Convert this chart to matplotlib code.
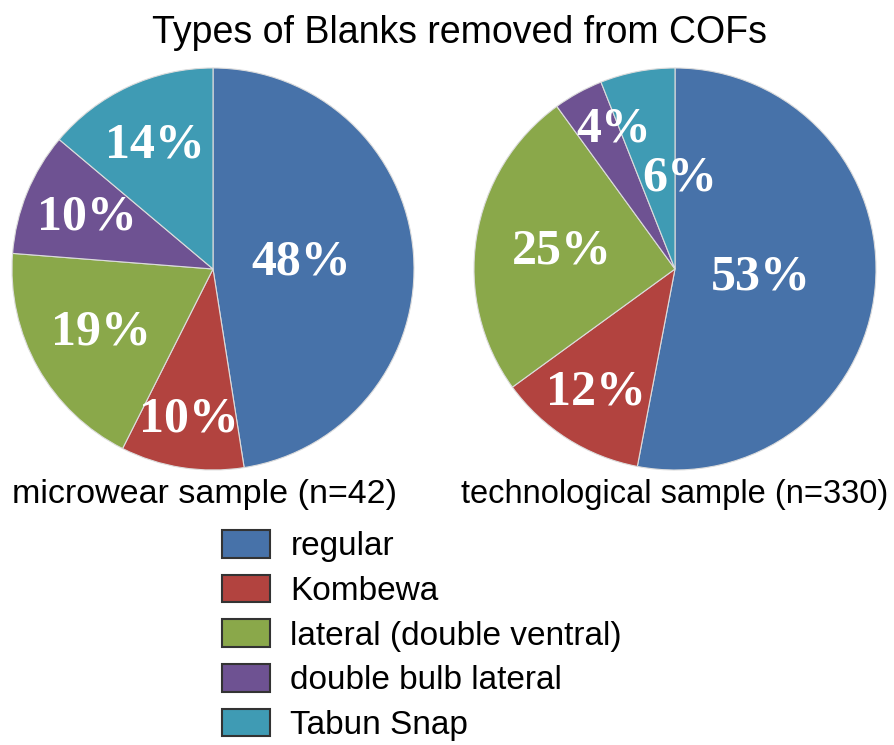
import numpy as np
import matplotlib
matplotlib.use("Agg")
import matplotlib.pyplot as plt

# data
categories = ["regular", "Kombewa", "lateral (double ventral)",
              "double bulb lateral", "Tabun Snap"]
micro_vals = [48, 10, 19, 10, 14]
tech_vals = [53, 12, 25, 4, 6]
micro_title = "microwear sample (n=42)"
tech_title = "technological sample (n=330)"
colors = ["#4772A9", "#B2433F", "#8AA84A", "#6E5292", "#3F9BB4"]

W, H = 895, 745
fig = plt.figure(figsize=(W / 100, H / 100), dpi=100)

def px_axes(x, y, w, h):
    return fig.add_axes([x / W, (H - y - h) / H, w / W, h / H])

def draw_pie(ax, vals, dists, shifts):
    # label angle shift in degrees, for labels not on the wedge middle
    wedges, _ = ax.pie(vals, colors=colors, startangle=90, counterclock=False,
                       wedgeprops=dict(edgecolor="#dcdcdc", linewidth=0.8))
    total = float(sum(vals))
    cum = 0
    for v, d, s in zip(vals, dists, shifts):
        mid = 90 - 360 * (cum + v / 2) / total + s
        cum += v
        ax.text(d * np.cos(np.radians(mid)), d * np.sin(np.radians(mid)),
                "%d%%" % v, ha="center", va="center", color="white",
                fontsize=36, fontweight="bold", family="Liberation Serif")
    ax.set_xlim(-1, 1)
    ax.set_ylim(-1, 1)
    ax.set_aspect("equal")
    ax.axis("off")
    return wedges

ax1 = px_axes(12, 68, 402, 402)
draw_pie(ax1, micro_vals, [0.44, 0.76, 0.64, 0.68, 0.68], [0, 0, 0, 0, 0])
ax2 = px_axes(474, 68, 402, 402)
draw_pie(ax2, tech_vals, [0.43, 0.73, 0.57, 0.76, 0.45], [0, 0, 0, -5, -14])

fig.text(460 / W, 1 - 33 / H, "Types of Blanks removed from COFs", ha="center",
         va="center", fontsize=27, family="Liberation Sans")
fig.text(205 / W, 1 - 495 / H, micro_title, ha="center", va="center",
         fontsize=24.5, family="Liberation Sans")
fig.text(675 / W, 1 - 495 / H, tech_title, ha="center", va="center",
         fontsize=23.5, family="Liberation Sans")

handles = [plt.Rectangle((0, 0), 1, 1, facecolor=c, edgecolor="#333333",
                         linewidth=1.5) for c in colors]
fig.legend(handles, categories, loc="upper left",
           bbox_to_anchor=(222 / W, 1 - 530 / H), frameon=False,
           prop=dict(family="Liberation Sans", size=24),
           handlelength=1.45, handleheight=0.9, labelspacing=0.37,
           handletextpad=0.6, borderpad=0, borderaxespad=0)

plt.savefig("out.png", dpi=100)
